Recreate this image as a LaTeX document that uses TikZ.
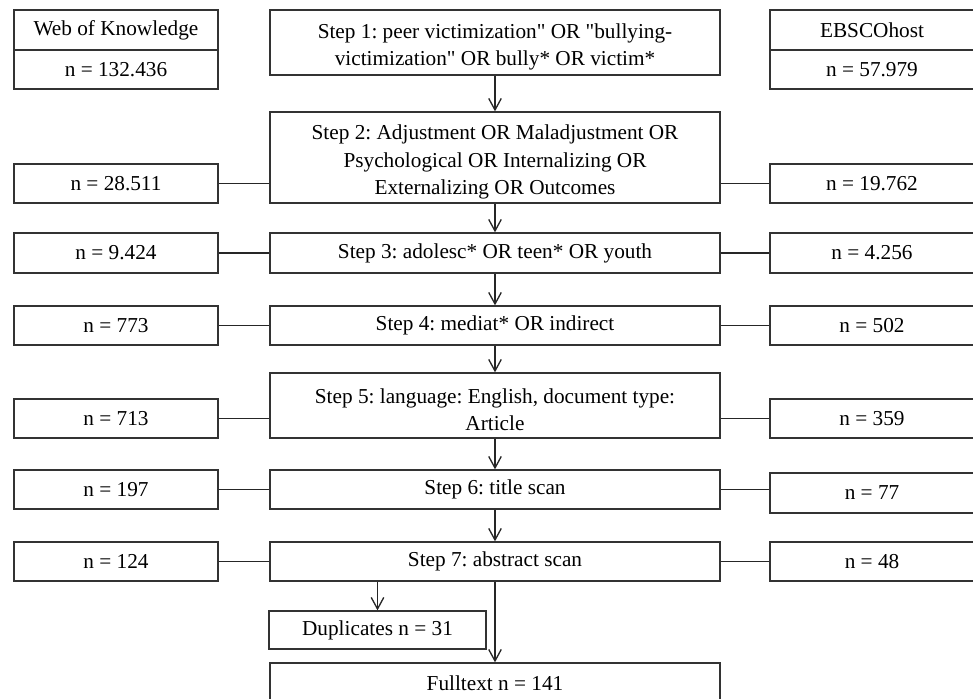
\documentclass[tikz,border=0pt]{standalone}
\usepackage{fontspec}
\setmainfont{Liberation Serif}[Ligatures=TeXOff]
\usetikzlibrary{arrows.meta}
\frenchspacing
\newcommand{\topgap}{\rule{0pt}{13.5pt}}

\begin{document}
\begin{tikzpicture}[x=0.02cm, y=-0.02cm,
    every node/.style={font=\fontsize{12.1}{15.5}\selectfont},
    box/.style={draw=black!80, line width=0.75pt, inner sep=0pt, align=center, minimum height=0.8cm},
    side/.style={box, minimum width=4.08cm},
    main/.style={box, minimum width=9cm},
    link/.style={draw=black!85, line width=0.75pt},
    >={Straight Barb[length=0.23cm, width=0.25cm]}]
                \useasboundingbox (0,0) rectangle (973,699);
                % databases
                \node[side] (wok) at (116,30) {Web of Knowledge};
                \node[side, minimum height=0.78cm] (wokn) at (116,69.5) {n = 132.436};
                \node[side] (ebs) at (872,30) {EBSCOhost};
                \node[side, minimum height=0.78cm] (ebsn) at (872,69.5) {n = 57.979};
                % steps
                \node[main, minimum height=1.3cm] (s1) at (495,42.5) {\topgap Step 1: peer victimization" OR "bullying-\\victimization" OR bully* OR victim*};
                \node[main, minimum height=1.82cm] (s2) at (495,157.5) {\topgap Step 2: Adjustment OR Maladjustment OR\\Psychological OR Internalizing OR\\Externalizing OR Outcomes};
                \node[main] (s3) at (495,253) {Step 3: adolesc* OR teen* OR youth};
                \node[main, minimum height=0.78cm] (s4) at (495,325.5) {Step 4: mediat* OR indirect};
                \node[main, minimum height=1.3cm] (s5) at (495,405.5) {\topgap Step 5: language: English, document type:\\Article};
                \node[main, minimum height=0.78cm] (s6) at (495,489.5) {Step 6: title scan};
                \node[main, minimum height=0.78cm] (s7) at (495,561.5) {Step 7: abstract scan};
                \node[box, minimum width=4.34cm, minimum height=0.76cm] (dup) at (377.5,630) {Duplicates n = 31};
                \node[main] (full) at (495,683) {Fulltext n = 141};
                % counts per step
                \node[side, minimum height=0.78cm] (l2) at (116,183.5) {n = 28.511};
                \node[side, minimum height=0.78cm] (r2) at (872,183.5) {n = 19.762};
                \node[side] (l3) at (116,253) {n = 9.424};
                \node[side] (r3) at (872,253) {n = 4.256};
                \node[side, minimum height=0.78cm] (l4) at (116,325.5) {n = 773};
                \node[side, minimum height=0.78cm] (r4) at (872,325.5) {n = 502};
                \node[side, minimum height=0.78cm] (l5) at (116,418.5) {n = 713};
                \node[side, minimum height=0.78cm] (r5) at (872,418.5) {n = 359};
                \node[side, minimum height=0.78cm] (l6) at (116,489.5) {n = 197};
                \node[side] (r6) at (872,493) {n = 77};
                \node[side, minimum height=0.78cm] (l7) at (116,561.5) {n = 124};
                \node[side, minimum height=0.78cm] (r7) at (872,561.5) {n = 48};
                % arrows
                \draw[link,->] (s1) -- (s2);
                \draw[link,->] (s2) -- (s3);
                \draw[link,->] (s3) -- (s4);
                \draw[link,->] (s4) -- (s5);
                \draw[link,->] (s5) -- (s6);
                \draw[link,->] (s6) -- (s7);
                \draw[link,->] (s7.south -| dup.north) -- (dup.north);
                \draw[link,->] (s7) -- (full);
                % side lines
                \draw[link] (l2.east) -- (l2.east -| s2.west);
                \draw[link] (r2.west) -- (r2.west -| s2.east);
                \draw[link] (l3) -- (s3) -- (r3);
                \draw[link] (l4) -- (s4) -- (r4);
                \draw[link] (l5.east) -- (l5.east -| s5.west);
                \draw[link] (r5.west) -- (r5.west -| s5.east);
                \draw[link] (l6) -- (s6);
                \draw[link] (s6.east) -- (s6.east -| r6.west);
                \draw[link] (l7) -- (s7) -- (r7);
            \end{tikzpicture}
\end{document}
